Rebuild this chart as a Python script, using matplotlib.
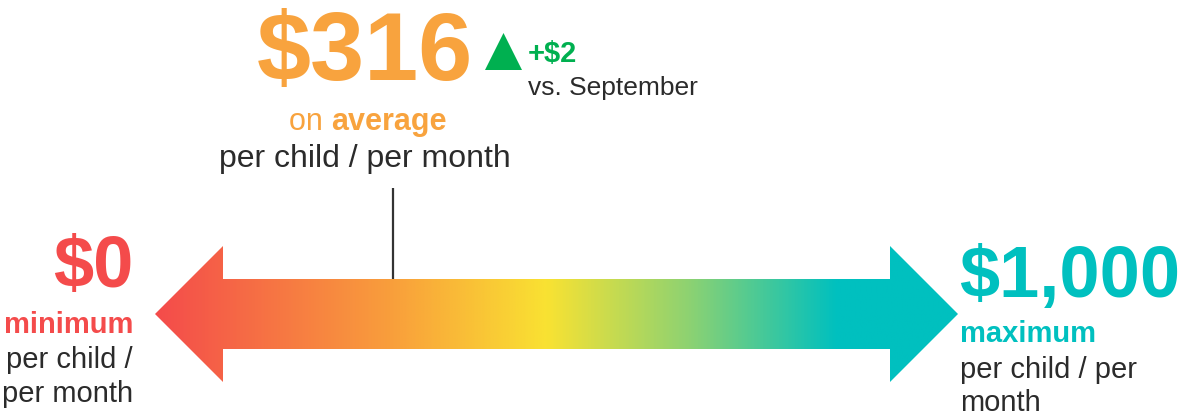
import numpy as np
import matplotlib
matplotlib.use('Agg')
from matplotlib import pyplot as plt
from matplotlib.colors import LinearSegmentedColormap
from matplotlib.patches import Polygon

# values shown on the chart
MIN_VALUE = 0
MAX_VALUE = 1000
AVG_VALUE = 316
CHANGE = 2
PREV_MONTH = "September"
UNIT_TEXT = "per child / per month"

FONT = "Liberation Sans"
ORANGE = "#F8A33E"
RED = "#F44B4B"
TEAL = "#00C0BF"
GREEN = "#00B050"
DARK = "#2B2B2B"

# gradient along the arrow, from min (red) to max (teal)
grad_pos = [0.0, 0.305, 0.488, 0.666, 0.85, 1.0]
grad_col = [RED, "#F9A23B", "#F9E232", "#8DD272", TEAL, TEAL]

fig = plt.figure(figsize=(11.84, 4.16), dpi=100)
ax = fig.add_axes([0, 0, 1, 1])
ax.set_xlim(0, 1184)
ax.set_ylim(416, 0)
ax.axis("off")

# arrow layout (pixel space)
tip_l, tip_r = 155, 958
back_l, back_r = 223, 890
y_mid, half_body, half_head = 314, 35, 68
arrow = Polygon([
    (tip_l, y_mid), (back_l, y_mid - half_head), (back_l, y_mid - half_body),
    (back_r, y_mid - half_body), (back_r, y_mid - half_head), (tip_r, y_mid),
    (back_r, y_mid + half_head), (back_r, y_mid + half_body),
    (back_l, y_mid + half_body), (back_l, y_mid + half_head)],
    closed=True, facecolor="none", edgecolor="none")
ax.add_patch(arrow)
cmap = LinearSegmentedColormap.from_list("scale", list(zip(grad_pos, grad_col)))
grad = np.linspace(0, 1, 512).reshape(1, -1)
img = ax.imshow(grad, cmap=cmap, aspect="auto", interpolation="bilinear",
                extent=[tip_l, tip_r, y_mid + half_head, y_mid - half_head])
img.set_clip_path(arrow)
ax.set_xlim(0, 1184)
ax.set_ylim(416, 0)

# scale used for the average marker
scale_l, scale_r = 155, 908
def val_to_x(v):
    return scale_l + (v - MIN_VALUE) / (MAX_VALUE - MIN_VALUE) * (scale_r - scale_l)

avg_x = val_to_x(AVG_VALUE)
ax.plot([avg_x, avg_x], [188, y_mid - half_body], color="#333333", lw=1.6,
        solid_capstyle="butt")

# average block
cx = 365
ax.text(cx, 80, f"${AVG_VALUE:,}", family=FONT, fontsize=70, fontweight="bold",
        color=ORANGE, ha="center", va="baseline")
r = fig.canvas.get_renderer()
t1 = ax.text(0, 130, "on ", family=FONT, fontsize=22, color=ORANGE, va="baseline")
t2 = ax.text(0, 130, "average", family=FONT, fontsize=22, fontweight="bold",
             color=ORANGE, va="baseline")
inv = ax.transData.inverted()
def width_px(t):
    bb = t.get_window_extent(renderer=r)
    return bb.width
w1, w2 = width_px(t1), width_px(t2)
start = cx + 3 - (w1 + w2) / 2
t1.set_x(start)
t2.set_x(start + w1)
ax.text(cx, 167, UNIT_TEXT, family=FONT, fontsize=23, color=DARK,
        ha="center", va="baseline")

# change vs previous month
tri = Polygon([(485, 70), (522, 70), (503.5, 33)], closed=True,
              facecolor=GREEN, edgecolor="none")
ax.add_patch(tri)
ax.text(528, 62, f"+${CHANGE:,}", family=FONT, fontsize=21, fontweight="bold",
        color=GREEN, va="baseline")
ax.text(528, 95, f"vs. {PREV_MONTH}", family=FONT, fontsize=19, color=DARK,
        va="baseline")

# minimum label
ax.text(133, 287, f"${MIN_VALUE:,}", family=FONT, fontsize=52, fontweight="bold",
        color=RED, ha="right", va="baseline")
ax.text(133, 333, "minimum", family=FONT, fontsize=21, fontweight="bold",
        color=RED, ha="right", va="baseline")
ax.text(133, 368, "per child /", family=FONT, fontsize=21, color=DARK,
        ha="right", va="baseline")
ax.text(133, 402, "per month", family=FONT, fontsize=21, color=DARK,
        ha="right", va="baseline")

# maximum label
ax.text(959, 297, f"${MAX_VALUE:,}", family=FONT, fontsize=52, fontweight="bold",
        color=TEAL, ha="left", va="baseline")
ax.text(960, 342, "maximum", family=FONT, fontsize=21, fontweight="bold",
        color=TEAL, ha="left", va="baseline")
ax.text(960, 378, "per child / per", family=FONT, fontsize=21, color=DARK,
        ha="left", va="baseline")
ax.text(960, 411, "month", family=FONT, fontsize=21, color=DARK,
        ha="left", va="baseline")

fig.savefig("out.png", dpi=100, facecolor="white")
